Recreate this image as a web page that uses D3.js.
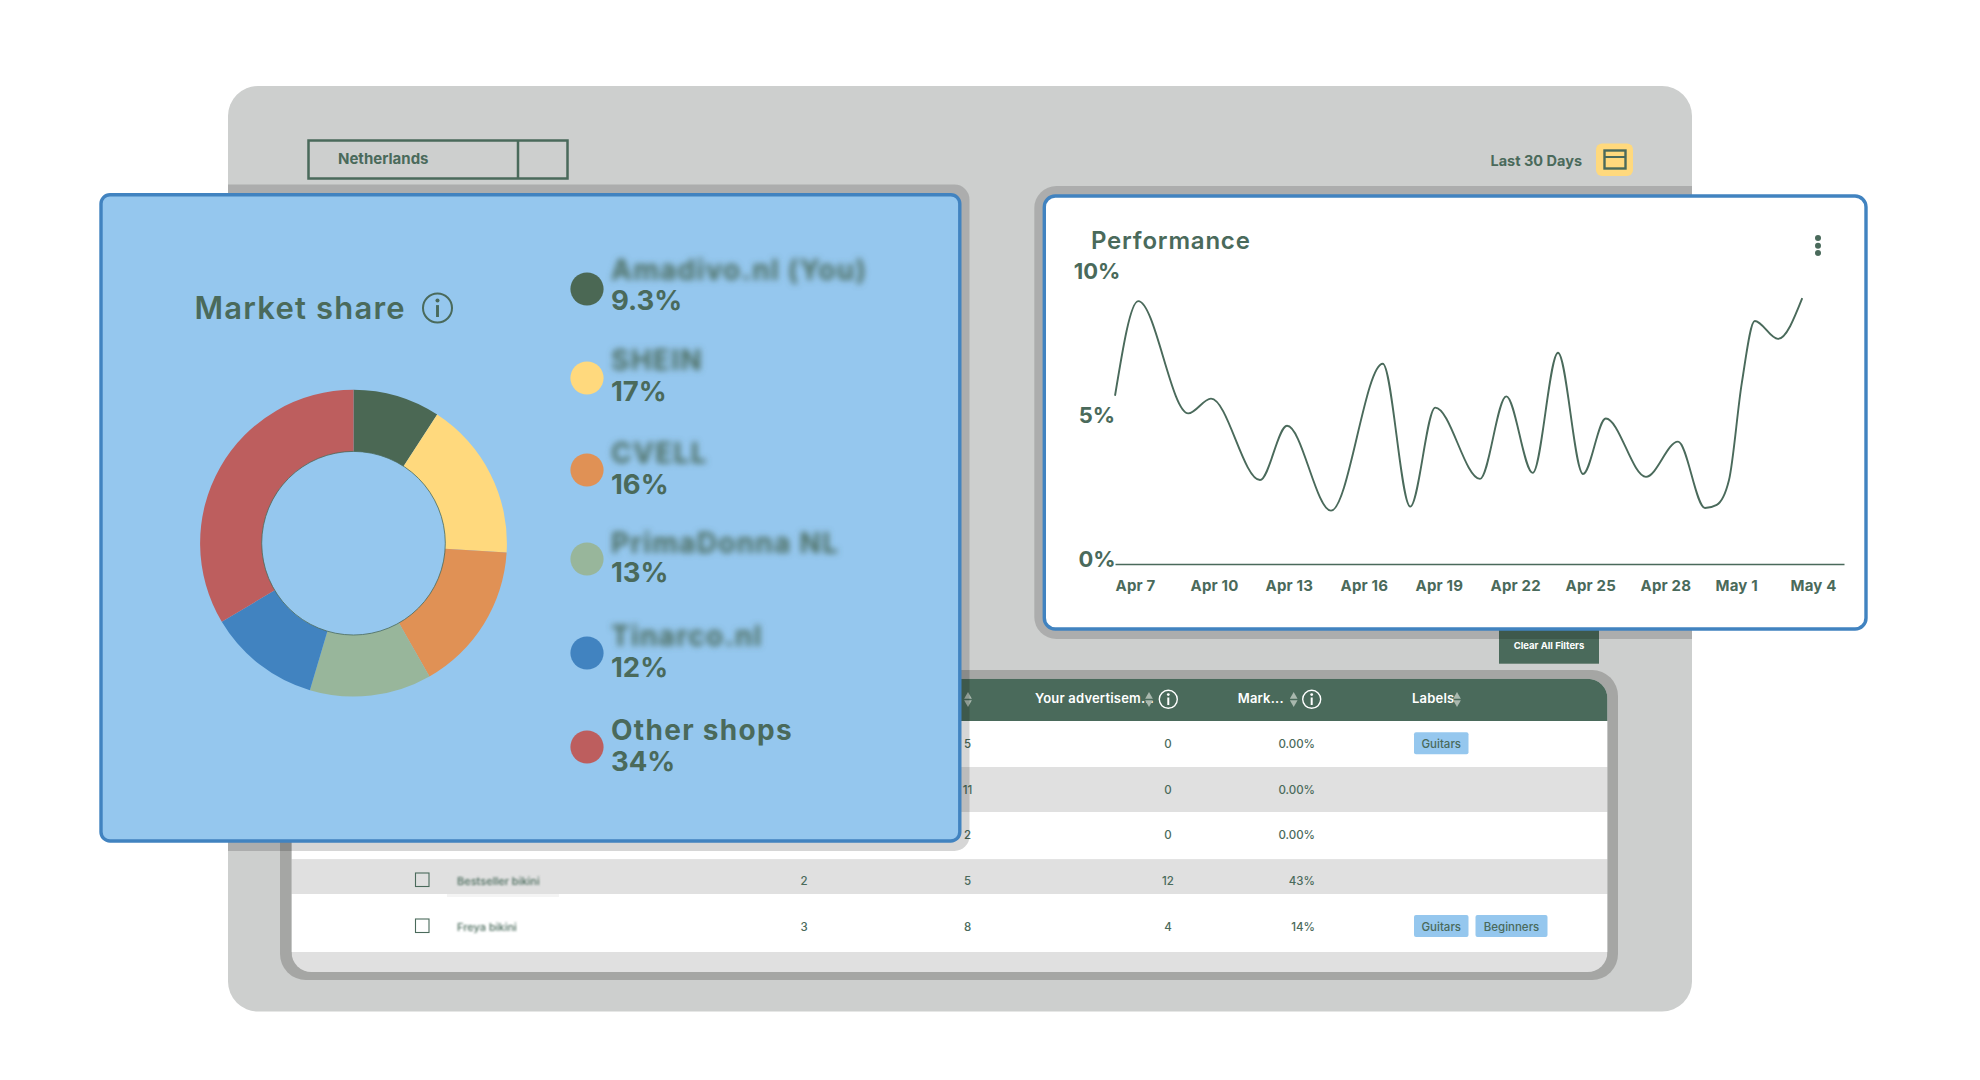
<!DOCTYPE html>
<html>
<head>
<meta charset="utf-8">
<title>Market share and performance</title>
<script src="https://cdnjs.cloudflare.com/ajax/libs/d3/7.8.5/d3.min.js"></script>
<style>
  body { margin: 0; background: #fff; }
  svg { display: block; }
  text { font-family: Inter, "Open Sans", sans-serif; fill: #4a6a5b; }
</style>
</head>
<body>
<div id="chart"></div>
<script>
// donut + legend values
var shops = ["Amadivo.nl (You)", "SHEIN", "CVELL", "PrimaDonna NL", "Tinarco.nl", "Other shops"];
var shares = [9.3, 17, 16, 13, 12, 34];
var shareLabels = ["9.3%", "17%", "16%", "13%", "12%", "34%"];
var shopColors = ["#4b6854", "#ffd97d", "#e09155", "#98b69b", "#4183c0", "#bd5e5e"];

// performance line, day = days after Apr 7
var lineDays = [0, 0.93, 2.93, 3.84, 5.8, 6.88, 8.64, 10.71, 11.81, 12.81, 14.6,
  15.65, 16.71, 17.72, 18.72, 19.63, 21.24, 22.52, 23.6, 24.07, 24.56, 25.07, 25.59, 26.52, 27.49];
var lineValues = [5.85, 9.13, 5.24, 5.75, 2.93, 4.81, 1.87, 6.96, 2.01, 5.44, 2.97,
  5.83, 3.18, 7.34, 3.14, 5.06, 3.04, 4.26, 1.96, 2.07, 2.93, 6.28, 8.44, 7.82, 9.23];
var tickDays = [0, 3, 6, 9, 12, 15, 18, 21, 24, 27];
var tickLabels = ["Apr 7", "Apr 10", "Apr 13", "Apr 16", "Apr 19", "Apr 22", "Apr 25", "Apr 28", "May 1", "May 4"];
var percentTicks = [0, 5, 10];

// table columns
var rowNames = ["", "", "", "Bestseller bikini", "Freya bikini"];
var colA = ["", "", "", "2", "3"];
var colB = ["5", "11", "2", "5", "8"];
var colC = ["0", "0", "0", "12", "4"];
var colD = ["0.00%", "0.00%", "0.00%", "43%", "14%"];
var rowLabels = [["Guitars"], [], [], [], ["Guitars", "Beginners"]];

var green = "#4a6a5b";
var panelBlue = "#95c7ee";
var borderBlue = "#4183c0";

var svg = d3.select("#chart").append("svg")
  .attr("width", 1980)
  .attr("height", 1080);

var defs = svg.append("defs");
defs.append("filter").attr("id", "blurBig").attr("x", "-10%").attr("y", "-40%").attr("width", "120%").attr("height", "180%")
  .append("feGaussianBlur").attr("stdDeviation", 3.4);
defs.append("filter").attr("id", "blurSmall").attr("x", "-10%").attr("y", "-60%").attr("width", "120%").attr("height", "220%")
  .append("feGaussianBlur").attr("stdDeviation", 1.3);
defs.append("clipPath").attr("id", "bgClip")
  .append("rect").attr("x", 228).attr("y", 86).attr("width", 1464).attr("height", 925.5).attr("rx", 30);
defs.append("clipPath").attr("id", "tableClip")
  .append("rect").attr("x", 291.5).attr("y", 678.7).attr("width", 1316).attr("height", 293.3).attr("rx", 20);

// background sheet
svg.append("rect")
  .attr("x", 228).attr("y", 86)
  .attr("width", 1464).attr("height", 925.5)
  .attr("rx", 30)
  .attr("fill", "#cdcfce");

// country dropdown
svg.append("rect")
  .attr("x", 308.5).attr("y", 140.5)
  .attr("width", 259).attr("height", 38)
  .attr("fill", "none").attr("stroke", green).attr("stroke-width", 2.5);
svg.append("line")
  .attr("x1", 518).attr("x2", 518).attr("y1", 140.5).attr("y2", 178.5)
  .attr("stroke", green).attr("stroke-width", 2.5);
svg.append("text")
  .attr("x", 338).attr("y", 164)
  .attr("font-size", 15).attr("font-weight", 700)
  .text("Netherlands");

// date picker
svg.append("text")
  .attr("x", 1582).attr("y", 166)
  .attr("text-anchor", "end")
  .attr("font-size", 14.5).attr("font-weight", 700)
  .text("Last 30 Days");
svg.append("rect")
  .attr("x", 1596).attr("y", 143.5)
  .attr("width", 37).attr("height", 32.5)
  .attr("rx", 6)
  .attr("fill", "#ffd97d");
svg.append("rect")
  .attr("x", 1604.5).attr("y", 150.5)
  .attr("width", 21).attr("height", 18)
  .attr("fill", "none").attr("stroke", green).attr("stroke-width", 2.4);
svg.append("line")
  .attr("x1", 1604.5).attr("x2", 1625.5).attr("y1", 157).attr("y2", 157)
  .attr("stroke", green).attr("stroke-width", 2);

// table frame, thicker on the sides than on top and bottom
svg.append("rect")
  .attr("x", 280).attr("y", 670)
  .attr("width", 1338).attr("height", 310)
  .attr("rx", 26)
  .attr("fill", "#a5a6a4");

var table = svg.append("g").attr("clip-path", "url(#tableClip)");

var rowEdges = [721, 767, 812, 859.3, 894, 952];
var rowFill = ["#fff", "#e0e0e0", "#fff", "#e0e0e0", "#fff"];
var rowMid = [744.3, 790, 835, 881, 927];

table.append("rect")
  .attr("x", 291.5).attr("y", 678.7).attr("width", 1316).attr("height", 293.3)
  .attr("fill", "#e0e0e0");
table.append("rect")
  .attr("x", 291.5).attr("y", 678.7).attr("width", 1316).attr("height", 42.3)
  .attr("fill", green);

table.selectAll(".row")
  .data(rowFill)
  .enter()
  .append("rect")
  .attr("class", "row")
  .attr("x", 291.5)
  .attr("y", (d, i) => rowEdges[i])
  .attr("width", 1316)
  .attr("height", (d, i) => rowEdges[i + 1] - rowEdges[i])
  .attr("fill", d => d);

// header texts
function headerText(label, x) {
  table.append("text")
    .attr("x", x).attr("y", 702.8)
    .attr("font-size", 13).attr("font-weight", 600)
    .style("letter-spacing", "0.2px")
    .style("fill", "#fff")
    .text(label);
}
headerText("Your advertisem...", 1035);
headerText("Mark...", 1237.7);
headerText("Labels", 1412);

// little up/down sort arrows
var arrowUp = d3.symbol().type(d3.symbolTriangle).size(26);
function sortArrows(x) {
  table.append("path").attr("d", arrowUp())
    .attr("transform", `translate(${x}, 696.5)`)
    .attr("fill", "#a9b8ae");
  table.append("path").attr("d", arrowUp())
    .attr("transform", `translate(${x}, 702.5) rotate(180)`)
    .attr("fill", "#a9b8ae");
}
[968, 1149, 1293.7, 1457].forEach(sortArrows);

function infoIcon(parent, x, y, r, color) {
  var g = parent.append("g").attr("transform", `translate(${x}, ${y})`);
  g.append("circle").attr("r", r)
    .attr("fill", "none").attr("stroke", color).attr("stroke-width", r / 9 + 0.4);
  g.append("line")
    .attr("y1", -r * 0.2).attr("y2", r * 0.62)
    .attr("stroke", color).attr("stroke-width", r / 6 + 0.5);
  g.append("circle").attr("cy", -r * 0.52).attr("r", r / 9 + 0.4).attr("fill", color);
}
infoIcon(table, 1168.3, 699.3, 9, "#fff");
infoIcon(table, 1311.7, 699.3, 9, "#fff");

// table cells
function cellColumn(values, x, anchor) {
  table.selectAll(null)
    .data(values)
    .enter()
    .append("text")
    .attr("x", x)
    .attr("y", (d, i) => rowMid[i] + 3.6)
    .attr("text-anchor", anchor)
    .attr("font-size", 11.5).attr("font-weight", 500)
    .text(d => d);
}
cellColumn(colA, 804, "middle");
cellColumn(colB, 967.5, "middle");
cellColumn(colC, 1168, "middle");
cellColumn(colD, 1315, "end");

// checkbox + blurred product name
rowNames.forEach(function(name, i) {
  if (name === "") return;
  table.append("rect")
    .attr("x", 415.5).attr("y", rowMid[i] - 8)
    .attr("width", 13.5).attr("height", 13.5)
    .attr("fill", "none").attr("stroke", green).attr("stroke-width", 1.1);
  table.append("text")
    .attr("x", 457).attr("y", rowMid[i] + 4)
    .attr("font-size", 11).attr("font-weight", 500)
    .attr("filter", "url(#blurSmall)")
    .text(name);
});
table.append("rect")
  .attr("x", 447).attr("y", 894).attr("width", 112).attr("height", 3)
  .attr("fill", "#f4f4f4");

// label chips
var chipWidths = { "Guitars": 54.5, "Beginners": 72 };
rowLabels.forEach(function(labels, i) {
  var x = 1414;
  labels.forEach(function(label) {
    table.append("rect")
      .attr("x", x).attr("y", rowMid[i] - 12)
      .attr("width", chipWidths[label]).attr("height", 22)
      .attr("rx", 2)
      .attr("fill", panelBlue);
    table.append("text")
      .attr("x", x + chipWidths[label] / 2).attr("y", rowMid[i] + 3.6)
      .attr("text-anchor", "middle")
      .attr("font-size", 11.5).attr("font-weight", 500)
      .text(label);
    x += chipWidths[label] + 7;
  });
});

// clear all filters button
svg.append("rect")
  .attr("x", 1499).attr("y", 620)
  .attr("width", 100).attr("height", 43.7)
  .attr("fill", green);
svg.append("text")
  .attr("x", 1549).attr("y", 649)
  .attr("text-anchor", "middle")
  .attr("font-size", 9.5).attr("font-weight", 700)
  .style("fill", "#fff")
  .text("Clear All Filters");

// panel shadows, they only darken the grey sheet
var shadows = svg.append("g").attr("clip-path", "url(#bgClip)");
shadows.append("rect")
  .attr("x", 60).attr("y", 184.5)
  .attr("width", 909.5).attr("height", 666.5)
  .attr("rx", 15)
  .attr("fill", "#000").attr("opacity", 0.16);
shadows.append("rect")
  .attr("x", 1034.3).attr("y", 186)
  .attr("width", 860).attr("height", 453)
  .attr("rx", 22)
  .attr("fill", "#000").attr("opacity", 0.16);

// ---- market share panel ----
svg.append("rect")
  .attr("x", 101).attr("y", 194.7)
  .attr("width", 858.8).attr("height", 646.3)
  .attr("rx", 9)
  .attr("fill", panelBlue)
  .attr("stroke", borderBlue).attr("stroke-width", 3.4);

svg.append("text")
  .attr("x", 194.5).attr("y", 319)
  .attr("font-size", 31).attr("font-weight", 600)
  .style("letter-spacing", "1.2px")
  .text("Market share");
infoIcon(svg, 437.5, 308, 14.5, green);

var pie = d3.pie().sort(null);
var arc = d3.arc().innerRadius(91.8).outerRadius(153.4);

var donut = svg.append("g").attr("transform", "translate(353.5, 543.2)");
donut.selectAll("path")
  .data(pie(shares))
  .enter()
  .append("path")
  .attr("d", arc)
  .attr("fill", (d, i) => shopColors[i]);
donut.append("circle")
  .attr("r", 91.8)
  .attr("fill", "none").attr("stroke", green).attr("stroke-width", 0.8);

// legend
var legendDotY = [289, 378, 470, 559, 653, 747];
var legendNameY = [280, 370, 463, 553, 646, 740];
var legendValueY = [309.5, 400.5, 493.5, 581.5, 676.5, 770.5];

svg.selectAll(".legendDot")
  .data(shopColors)
  .enter()
  .append("circle")
  .attr("class", "legendDot")
  .attr("cx", 587)
  .attr("cy", (d, i) => legendDotY[i])
  .attr("r", 16.6)
  .attr("fill", d => d);

svg.selectAll(".legendName")
  .data(shops)
  .enter()
  .append("text")
  .attr("class", "legendName")
  .attr("x", 611)
  .attr("y", (d, i) => legendNameY[i])
  .attr("font-size", 28).attr("font-weight", 700)
  .style("letter-spacing", "1.3px")
  .attr("filter", d => d === "Other shops" ? null : "url(#blurBig)")
  .text(d => d);

svg.selectAll(".legendValue")
  .data(shareLabels)
  .enter()
  .append("text")
  .attr("class", "legendValue")
  .attr("x", 611)
  .attr("y", (d, i) => legendValueY[i])
  .attr("font-size", 27.5).attr("font-weight", 700)
  .text(d => d);

// ---- performance panel ----
svg.append("rect")
  .attr("x", 1044.3).attr("y", 196)
  .attr("width", 821.7).attr("height", 433)
  .attr("rx", 11)
  .attr("fill", "#fff")
  .attr("stroke", borderBlue).attr("stroke-width", 3.4);

svg.append("text")
  .attr("x", 1091).attr("y", 249)
  .attr("font-size", 24).attr("font-weight", 600)
  .style("letter-spacing", "0.8px")
  .text("Performance");

svg.selectAll(".menuDot")
  .data([238, 245.7, 253])
  .enter()
  .append("circle")
  .attr("class", "menuDot")
  .attr("cx", 1818)
  .attr("cy", d => d)
  .attr("r", 3)
  .attr("fill", green);

var xScale = d3.scaleLinear().domain([0, 29.16]).range([1115, 1844]);
var yScale = d3.scaleLinear().domain([0, 10]).range([564.6, 276]);

var bottomAxis = d3.axisBottom(xScale)
  .tickValues(tickDays)
  .tickFormat((d, i) => tickLabels[i])
  .tickSize(0)
  .tickSizeOuter(0);

var xAxisGroup = svg.append("g")
  .attr("transform", "translate(0, 564)")
  .call(bottomAxis);
xAxisGroup.select(".domain").attr("stroke", green).attr("stroke-width", 1.4);
xAxisGroup.selectAll("text")
  .attr("y", 27).attr("dy", 0)
  .attr("text-anchor", "start")
  .style("font-size", "15px").style("font-weight", 700)
  .style("letter-spacing", "0.2px");

var leftAxis = d3.axisLeft(yScale)
  .tickValues(percentTicks)
  .tickFormat(d => d + "%")
  .tickSize(0);

var yAxisGroup = svg.append("g")
  .attr("transform", "translate(1115, 0)")
  .call(leftAxis);
yAxisGroup.select(".domain").remove();
yAxisGroup.selectAll("text")
  .attr("x", -18).attr("dy", 2)
  .attr("text-anchor", "middle")
  .style("font-size", "22px").style("font-weight", 700);

var line = d3.line()
  .x((d, i) => xScale(lineDays[i]))
  .y(d => yScale(d))
  .curve(d3.curveMonotoneX);

svg.append("path")
  .datum(lineValues)
  .attr("d", line)
  .attr("fill", "none")
  .attr("stroke", green)
  .attr("stroke-width", 1.9);
</script>
</body>
</html>
